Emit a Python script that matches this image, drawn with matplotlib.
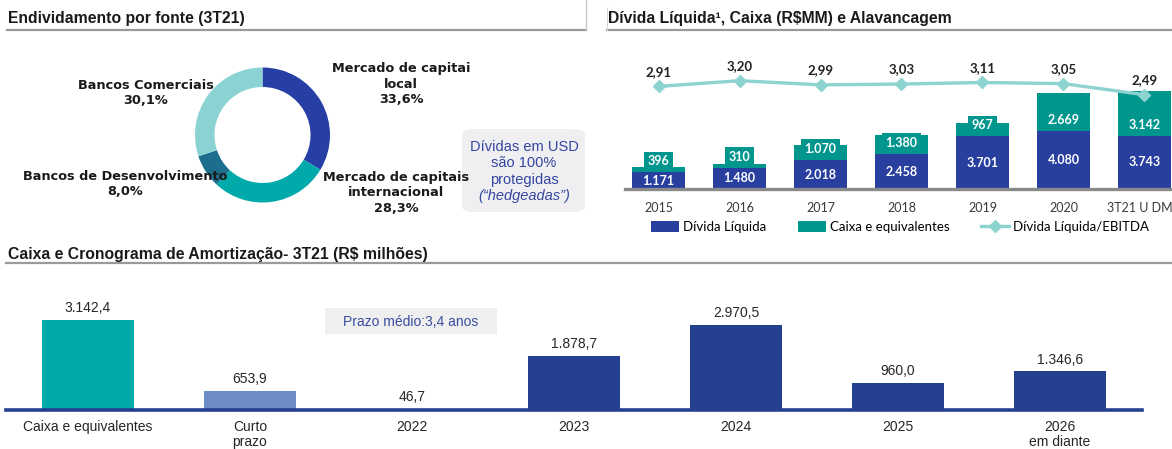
import matplotlib
matplotlib.use("Agg")
import matplotlib.pyplot as plt
from matplotlib.lines import Line2D
from matplotlib.patches import Patch, FancyBboxPatch, Rectangle
from matplotlib.transforms import ScaledTranslation

# --- data ---
fonte_labels = ["Mercado de capitai\nlocal", "Mercado de capitais\ninternacional",
                "Bancos de Desenvolvimento", "Bancos Comerciais"]
fonte_pct = [33.6, 28.3, 8.0, 30.1]

anos = ["2015", "2016", "2017", "2018", "2019", "2020", "3T21 U DM"]
divida_liq = [1171, 1480, 2018, 2458, 3701, 4080, 3743]
caixa = [396, 310, 1070, 1380, 967, 2669, 3142]
alavancagem = [2.91, 3.20, 2.99, 3.03, 3.11, 3.05, 2.49]

amort_cats = ["Caixa e equivalentes", "Curto\nprazo", "2022", "2023", "2024", "2025", "2026\nem diante"]
amort_vals = [3142.4, 653.9, 46.7, 1878.7, 2970.5, 960.0, 1346.6]

# colours
AZUL = "#283FA0"
VERDE = "#00958D"
LINHA = "#8DD3D0"
donut_cores = ["#273EA5", "#00AAAA", "#1D6E8E", "#8BD3D3"]
amort_cores = ["#00AAA8", "#6C8BC7", "#253F91", "#253F91", "#253F91", "#253F91", "#253F91"]

W, H = 1172, 449


def fx(x):
    return x / W


def fy(y):
    return 1 - y / H


def br(v, dec=0):
    s = f"{v:,.{dec}f}"
    return s.replace(",", "X").replace(".", ",").replace("X", ".")


fig = plt.figure(figsize=(W / 100, H / 100), dpi=100)
TITLE = dict(family="Liberation Sans", weight="bold", size=11.3, color="#1a1a1a", va="center")

# titles and their rule lines
fig.text(fx(8), fy(19), "Endividamento por fonte (3T21)", **TITLE)
fig.text(fx(608), fy(18), "Dívida Líquida¹, Caixa (R$MM) e Alavancagem", **TITLE)
fig.text(fx(8), fy(255), "Caixa e Cronograma de Amortização- 3T21 (R$ milhões)", **TITLE)
for x0, x1, y in [(7, 586, 30), (607, 1172, 30), (6, 1172, 263)]:
    fig.add_artist(Line2D([fx(x0), fx(x1)], [fy(y), fy(y)], color="#9a9a9a", lw=1.6))
fig.add_artist(Line2D([fx(586), fx(586)], [fy(0), fy(30)], color="#c8c8c8", lw=1))
fig.add_artist(Line2D([fx(607), fx(607)], [fy(8), fy(30)], color="#d8d8d8", lw=0.8))

# --- donut ---
cx, cy, half = 262.5, 135, 75
axd = fig.add_axes([fx(cx - half), fy(cy + half), 2 * half / W, 2 * half / H])
axd.pie(fonte_pct, colors=donut_cores, startangle=90, counterclock=False, radius=0.9,
        wedgeprops=dict(width=0.26, edgecolor="none"))
axd.set_xlim(-1, 1)
axd.set_ylim(-1, 1)
axd.set_aspect("auto")
axd.axis("off")

DL = dict(family="DejaVu Sans", weight="bold", size=9.3, color="#1a1a1a",
          ha="center", va="center", linespacing=1.25)
label_pos = [(401, 84), (396, 193), (125, 184), (146, 93)]
for lab, pct, (x, y) in zip(fonte_labels, fonte_pct, label_pos):
    fig.text(fx(x), fy(y), f"{lab}\n{br(pct, 1)}%", **DL)

box = FancyBboxPatch((fx(462), fy(212)), fx(585) - fx(462), (212 - 129) / H,
                     boxstyle="round,pad=0,rounding_size=0.012", transform=fig.transFigure,
                     facecolor="#EFEFF1", edgecolor="none")
fig.add_artist(box)
BT = dict(family="Liberation Sans", size=10.5, color="#3346A0", ha="center", va="center")
fig.text(fx(524), fy(147), "Dívidas em USD", **BT)
fig.text(fx(524), fy(163), "são 100%", **BT)
fig.text(fx(524), fy(180), "protegidas", **BT)
fig.text(fx(524), fy(196), "(“hedgeadas”)", style="italic", **BT)

# --- divida liquida / caixa ---
ax = fig.add_axes([fx(625), fy(189), fx(1172) - fx(625), (189 - 60) / H])
x = range(len(anos))
ax.bar(x, divida_liq, width=0.655, color=AZUL, zorder=2)
ax.bar(x, caixa, bottom=divida_liq, width=0.655, color=VERDE, zorder=2)
ax.set_xlim(-0.414, 6.34)
ax.set_ylim(0, 9085)
for s in ax.spines.values():
    s.set_visible(False)
ax.set_yticks([])
ax.set_xticks(list(x))
ax.set_xticklabels(anos, family="Lato", size=9, color="#3a3a3a")
ax.tick_params(axis="x", length=0, pad=9)
last = ax.get_xticklabels()[-1]
last.set_transform(last.get_transform() + ScaledTranslation(-5 / 100, 0, fig.dpi_scale_trans))
ax.axhline(0, color="#8a8a8a", lw=2.4, clip_on=False, zorder=3)
for i in x:
    ax.text(i, divida_liq[i] / 2, br(divida_liq[i]), ha="center", va="center",
            family="Lato", weight="bold", size=9, color="white", zorder=4)
    ax.annotate(br(caixa[i]), (i, divida_liq[i]), xytext=(0, 8), textcoords="offset points",
                ha="center", va="center", family="Lato", weight="bold", size=9, color="white",
                zorder=4, bbox=dict(boxstyle="square,pad=0.3", facecolor=VERDE, edgecolor="none"))

ax2 = ax.twinx()
ax2.plot(list(x), alavancagem, color=LINHA, lw=2.4, marker="D", ms=6, zorder=5)
ax2.set_ylim(-2.297, 4.251)
ax2.axis("off")
for i, v in enumerate(alavancagem):
    ax2.annotate(br(v, 2), (i, v), xytext=(0, 10.5), textcoords="offset points", ha="center",
                 va="center", family="Lato", weight="bold", size=9.5, color="#222222")

handles = [Patch(facecolor=AZUL, edgecolor="none"), Patch(facecolor=VERDE, edgecolor="none"),
           Line2D([], [], color=LINHA, lw=2.4, marker="D", ms=6)]
fig.legend(handles, ["Dívida Líquida", "Caixa e equivalentes", "Dívida Líquida/EBITDA"],
           loc="center", bbox_to_anchor=(fx(900), fy(227)), ncol=3, frameon=False,
           prop=dict(family="Lato", size=9.5), handlelength=2.1, handleheight=0.9,
           handletextpad=0.3, columnspacing=2.4)

# --- cronograma de amortizacao ---
axb = fig.add_axes([fx(6), fy(410), fx(1142) - fx(6), (410 - 265) / H])
xb = range(len(amort_cats))
axb.bar(xb, amort_vals, width=0.568, color=amort_cores, zorder=2)
axb.set_xlim(-0.506, 6.506)
axb.set_ylim(0, 5070)
for s in axb.spines.values():
    s.set_visible(False)
axb.set_yticks([])
axb.set_xticks(list(xb))
axb.set_xticklabels(amort_cats, family="Liberation Sans", size=10, color="#262626", linespacing=1.15)
axb.tick_params(axis="x", length=0, pad=7)
axb.axhline(0, color="#253F91", lw=2.6, clip_on=False, zorder=3)
for i, v in enumerate(amort_vals):
    axb.annotate(br(v, 1), (i, v), xytext=(0, 8.6), textcoords="offset points", ha="center",
                 va="center", family="Liberation Sans", size=10, color="#262626")

fig.add_artist(Rectangle((fx(325), fy(334)), fx(497) - fx(325), (334 - 308) / H,
                         transform=fig.transFigure, facecolor="#EFEFEF", edgecolor="none"))
fig.text(fx(411), fy(322), "Prazo médio:3,4 anos", family="Liberation Sans", size=10,
         color="#3A4EA0", ha="center", va="center")

fig.savefig("out.png", dpi=100)
